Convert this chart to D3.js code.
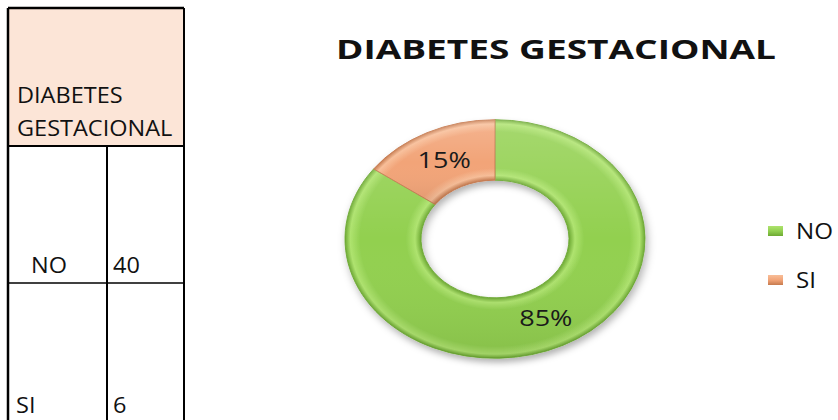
<!DOCTYPE html>
<html>
<head>
<meta charset="utf-8">
<script src="https://cdn.jsdelivr.net/npm/d3@7"></script>
<style>
  html, body { margin: 0; padding: 0; background: #ffffff; }
  svg { display: block; }
</style>
</head>
<body>
<svg id="chart" width="838" height="420"></svg>
<script>
// Category labels, raw counts for the table, and the percentages shown on the ring
const categories = ["NO", "SI"];
const counts = [40, 6];
const percents = [85, 15];
const headerLines = ["DIABETES", "GESTACIONAL"];
const chartTitle = "DIABETES GESTACIONAL";

const baseColors = { NO: "#92D050", SI: "#F2A478" };
const lightColors = { NO: "#AEE36E", SI: "#F8BE98" };
const darkColors = { NO: "#6DA933", SI: "#C67A4E" };

const svg = d3.select("#chart");
const defs = svg.append("defs");
const font = "'Open Sans', 'DejaVu Sans', sans-serif";

// ---------- data table ----------
const table = svg.append("g").attr("class", "table");
const tx0 = 8, tx1 = 184, tcol = 107, ty0 = 8, tHeadBottom = 146, tRow = 283, tyEnd = 430;
const cellFont = 21, cellStretch = 1.12;

table.append("rect")
  .attr("x", tx0).attr("y", ty0)
  .attr("width", tx1 - tx0).attr("height", tHeadBottom - ty0)
  .attr("fill", "#FCE5D7");

function cellText(sel, x, y) {
  return sel
    .attr("transform", (d, i) => `translate(${x(d, i)},${y(d, i)}) scale(${cellStretch},1)`)
    .attr("font-family", font)
    .attr("font-size", cellFont)
    .attr("fill", "#111")
    .text(d => d);
}

cellText(table.selectAll("text.head").data(headerLines).join("text").attr("class", "head"),
  () => 17, (d, i) => 103 + i * 33);

const rowBase = [273, 413];
const rowLabelX = [31, 16];
cellText(table.selectAll("text.cat").data(categories).join("text").attr("class", "cat"),
  (d, i) => rowLabelX[i], (d, i) => rowBase[i]);
cellText(table.selectAll("text.count").data(counts).join("text").attr("class", "count"),
  () => 113, (d, i) => rowBase[i]);

// grid lines
const lines = [
  [tx0, ty0, tx1, ty0, 2.5],
  [tx0, ty0, tx0, tyEnd, 2.5],
  [tx1, ty0, tx1, tyEnd, 2],
  [tx0, tHeadBottom, tx1, tHeadBottom, 2],
  [tcol, tHeadBottom, tcol, tyEnd, 2],
  [tx0, tRow, tx1, tRow, 1.5]
];
table.selectAll("line")
  .data(lines)
  .join("line")
  .attr("x1", d => d[0]).attr("y1", d => d[1])
  .attr("x2", d => d[2]).attr("y2", d => d[3])
  .attr("stroke", "#000")
  .attr("stroke-width", d => d[4]);

// ---------- title ----------
svg.append("text")
  .attr("x", 336)
  .attr("y", 59)
  .attr("font-family", font)
  .attr("font-weight", 700)
  .attr("font-size", 27)
  .attr("textLength", 440)
  .attr("lengthAdjust", "spacingAndGlyphs")
  .attr("fill", "#111")
  .text(chartTitle);

// ---------- doughnut ----------
const cx = 495, cy = 239;
const outerR = 150, innerR = 74, squash = 0.795;

// soft shadow under the ring
const shadow = defs.append("filter").attr("id", "ringShadow")
  .attr("x", "-20%").attr("y", "-20%").attr("width", "140%").attr("height", "150%");
shadow.append("feDropShadow")
  .attr("dx", 2).attr("dy", 5).attr("stdDeviation", 4)
  .attr("flood-color", "#000").attr("flood-opacity", 0.3);

// bevel-like radial shading per category
categories.forEach(c => {
  const g = defs.append("radialGradient")
    .attr("id", "grad-" + c)
    .attr("gradientUnits", "userSpaceOnUse")
    .attr("cx", 0).attr("cy", 0).attr("r", outerR);
  const ir = innerR / outerR;
  [
    [ir, darkColors[c]],
    [ir + 0.04, lightColors[c]],
    [ir + 0.1, baseColors[c]],
    [0.9, baseColors[c]],
    [0.965, lightColors[c]],
    [1, darkColors[c]]
  ].forEach(([o, col]) => g.append("stop").attr("offset", o).attr("stop-color", col));
});

// top-lit overlay
const lit = defs.append("linearGradient").attr("id", "lit")
  .attr("x1", 0).attr("y1", 0).attr("x2", 0).attr("y2", 1);
lit.append("stop").attr("offset", 0).attr("stop-color", "#fff").attr("stop-opacity", 0.18);
lit.append("stop").attr("offset", 0.5).attr("stop-color", "#fff").attr("stop-opacity", 0);
lit.append("stop").attr("offset", 1).attr("stop-color", "#000").attr("stop-opacity", 0.08);

const pie = d3.pie().sort(null).value(d => d.value);
const arcs = pie(categories.map((c, i) => ({ cat: c, value: percents[i] })));
const arc = d3.arc().innerRadius(innerR).outerRadius(outerR);

const ring = svg.append("g")
  .attr("transform", `translate(${cx},${cy}) scale(1,${squash})`);

const ringBody = ring.append("g").attr("filter", "url(#ringShadow)");
ringBody.selectAll("path.slice")
  .data(arcs)
  .join("path")
  .attr("class", "slice")
  .attr("d", arc)
  .attr("fill", d => `url(#grad-${d.data.cat})`)
  .attr("stroke", d => darkColors[d.data.cat])
  .attr("stroke-width", 1);

ring.selectAll("path.lit")
  .data(arcs)
  .join("path")
  .attr("class", "lit")
  .attr("d", arc)
  .attr("fill", "url(#lit)");

// percentage labels at slice centroids (text kept unsquashed, widened like the chart)
const hStretch = 1 / squash;
const labelArc = d3.arc().innerRadius((innerR + outerR) / 2).outerRadius((innerR + outerR) / 2);
svg.append("g").selectAll("text")
  .data(arcs)
  .join("text")
  .attr("transform", d => {
    const [x, y] = labelArc.centroid(d);
    return `translate(${cx + x},${cy + y * squash + 8}) scale(${hStretch},1)`;
  })
  .attr("text-anchor", "middle")
  .attr("font-family", font)
  .attr("font-size", 21.5)
  .attr("fill", "#1a1a1a")
  .text(d => d.data.value + "%");

// ---------- legend ----------
categories.forEach(c => {
  const g = defs.append("linearGradient").attr("id", "key-" + c)
    .attr("x1", 0).attr("y1", 0).attr("x2", 0).attr("y2", 1);
  g.append("stop").attr("offset", 0).attr("stop-color", lightColors[c]);
  g.append("stop").attr("offset", 0.5).attr("stop-color", baseColors[c]);
  g.append("stop").attr("offset", 1).attr("stop-color", darkColors[c]);
});

const legendY = d3.scalePoint().domain(categories).range([231, 280]);
const legend = svg.append("g").selectAll("g")
  .data(categories)
  .join("g")
  .attr("transform", d => `translate(768,${legendY(d)})`);
legend.append("rect")
  .attr("x", 0).attr("y", -5)
  .attr("width", 15).attr("height", 10)
  .attr("fill", d => `url(#key-${d})`);
legend.append("text")
  .attr("transform", "translate(28,7.5) scale(1.15,1)")
  .attr("font-family", font)
  .attr("font-size", 21)
  .attr("fill", "#111")
  .text(d => d);
</script>
</body>
</html>
